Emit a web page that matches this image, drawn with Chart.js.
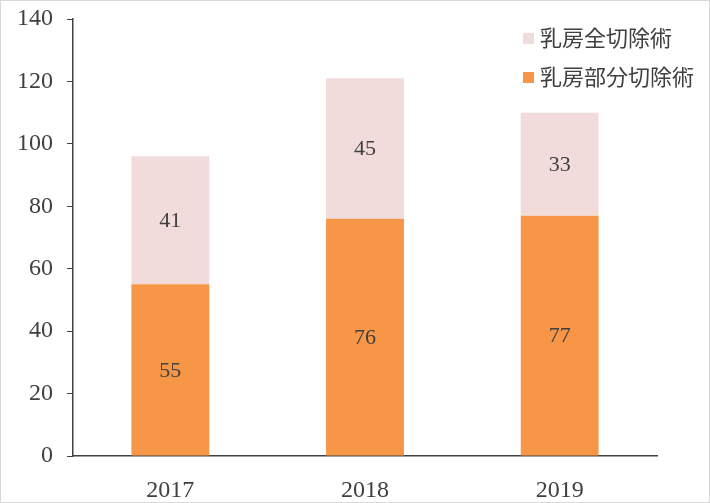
<!DOCTYPE html>
<html>
<head>
<meta charset="utf-8">
<script src="https://cdn.jsdelivr.net/npm/chart.js@4/dist/chart.umd.min.js"></script>
<style>
  html, body { margin: 0; padding: 0; background: #fff; }
  #wrap { position: relative; width: 710px; height: 503px; box-sizing: border-box; border: 1px solid #d9d9d9; }
</style>
</head>
<body>
<div id="wrap"><canvas id="chart"></canvas></div>
<script>
// data
const years = ["2017", "2018", "2019"];
const partial = [55, 76, 77];   // 乳房部分切除術
const total = [41, 45, 33];     // 乳房全切除術
const yTicks = [0, 20, 40, 60, 80, 100, 120, 140];

const ORANGE = "#F79646";
const PINK = "#F2DCDB";
const TXT = "#404040";
const SERIF = "'Liberation Serif', 'Times New Roman', serif";

// values in the middle of each bar piece
const valueLabels = {
  id: "valueLabels",
  afterDatasetsDraw(chart) {
    const ctx = chart.ctx;
    ctx.save();
    ctx.font = "22px " + SERIF;
    ctx.fillStyle = TXT;
    ctx.textAlign = "center";
    ctx.textBaseline = "middle";
    chart.data.datasets.forEach((ds, i) => {
      chart.getDatasetMeta(i).data.forEach((bar, j) => {
        const mid = (bar.y + bar.base) / 2;
        ctx.fillText(ds.data[j], bar.x, mid + 1);
      });
    });
    ctx.restore();
  }
};

// legend inside the plot, top right
const boxLegend = {
  id: "boxLegend",
  afterDraw(chart) {
    const ctx = chart.ctx;
    const items = chart.data.datasets.slice().reverse();
    ctx.save();
    ctx.font = "22px 'Noto Sans CJK JP', sans-serif";
    ctx.textBaseline = "middle";
    items.forEach((ds, k) => {
      const y = 37 + k * 39;
      ctx.fillStyle = ds.backgroundColor;
      ctx.fillRect(522, y - 5, 11, 11);
      ctx.fillStyle = TXT;
      ctx.fillText(ds.label, 539, y);
    });
    ctx.restore();
  }
};

new Chart(document.getElementById("chart"), {
  type: "bar",
  data: {
    labels: years,
    datasets: [
      { label: "乳房部分切除術", data: partial, backgroundColor: ORANGE },
      { label: "乳房全切除術", data: total, backgroundColor: PINK },
    ],
  },
  options: {
    responsive: true,
    maintainAspectRatio: false,
    animation: false,
    layout: { padding: { left: 0, top: 18, right: 52, bottom: 0 } },
    datasets: { bar: { categoryPercentage: 1, barPercentage: 0.4 } },
    plugins: { legend: { display: false }, tooltip: { enabled: false } },
    scales: {
      x: {
        stacked: true,
        grid: { display: false },
        border: { color: TXT, width: 1.5 },
        ticks: { color: TXT, padding: 12, font: { family: SERIF, size: 24 } },
        afterFit(s) { s.height = 46; s.paddingLeft = 0; s.paddingRight = 0; },
      },
      y: {
        stacked: true,
        min: 0,
        max: 140,
        afterBuildTicks(s) { s.ticks = yTicks.map((v) => ({ value: v })); },
        grid: { drawOnChartArea: false, drawTicks: true, tickLength: 6, color: TXT },
        border: { color: TXT, width: 1.5 },
        ticks: { color: TXT, padding: 14, font: { family: SERIF, size: 24 } },
        afterFit(s) { s.width = 72; s.paddingTop = 0; s.paddingBottom = 0; },
      },
    },
  },
  plugins: [valueLabels, boxLegend],
});
</script>
</body>
</html>
